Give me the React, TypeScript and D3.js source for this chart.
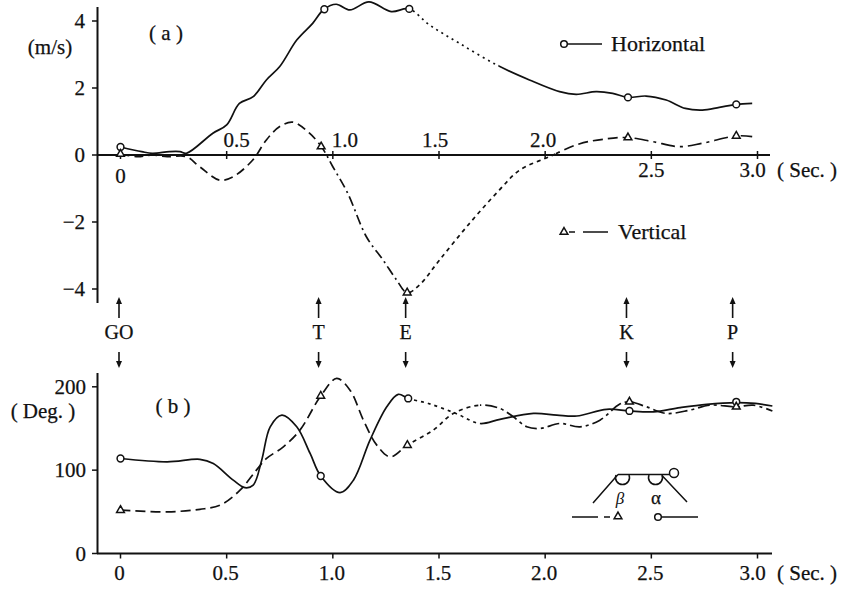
import React, { useRef, useEffect } from "react";
import * as d3 from "d3";

// (a) velocity of the centre of gravity, m/s
const horizTime = [0, 0.1, 0.15, 0.23, 0.28, 0.31, 0.435, 0.5, 0.56, 0.625, 0.687, 0.75, 0.83, 0.905, 0.958, 1.016, 1.08, 1.17, 1.275, 1.358, 1.456, 1.597, 1.777, 1.926, 2.068, 2.146, 2.24, 2.318, 2.39, 2.475, 2.57, 2.66, 2.74, 2.82, 2.9, 2.975];
const horizVel = [0.24, 0.1, 0.05, 0.1, 0.1, 0.05, 0.65, 0.9, 1.54, 1.74, 2.24, 2.64, 3.43, 3.93, 4.35, 4.5, 4.33, 4.57, 4.28, 4.36, 3.88, 3.33, 2.67, 2.24, 1.89, 1.81, 1.89, 1.84, 1.72, 1.76, 1.64, 1.39, 1.34, 1.42, 1.51, 1.54];
const vertTime = [0, 0.08, 0.15, 0.22, 0.31, 0.373, 0.467, 0.53, 0.623, 0.687, 0.75, 0.812, 0.89, 0.946, 1.0, 1.07, 1.158, 1.236, 1.3, 1.35, 1.408, 1.503, 1.644, 1.785, 1.88, 2.02, 2.16, 2.287, 2.39, 2.506, 2.63, 2.74, 2.9, 2.975];
const vertVel = [0.03, -0.05, 0.0, -0.05, -0.05, -0.35, -0.75, -0.65, -0.15, 0.45, 0.85, 0.98, 0.65, 0.25, -0.35, -1.14, -2.44, -3.13, -3.73, -4.11, -3.88, -3.13, -2.04, -1.04, -0.45, -0.05, 0.33, 0.48, 0.52, 0.4, 0.25, 0.35, 0.57, 0.55];
const horizMarkTime = [0, 0.96, 1.36, 2.39, 2.9];
const horizMarkVel = [0.24, 4.35, 4.36, 1.72, 1.51];
const vertMarkTime = [0, 0.945, 1.35, 2.39, 2.9];
const vertMarkVel = [0.03, 0.25, -4.11, 0.52, 0.57];

// (b) joint angles, deg
const alphaTime = [0, 0.22, 0.374, 0.437, 0.531, 0.586, 0.625, 0.665, 0.705, 0.76, 0.83, 0.893, 0.943, 1.034, 1.097, 1.175, 1.254, 1.308, 1.355, 1.45, 1.58, 1.693, 1.787, 1.945, 2.055, 2.149, 2.29, 2.397, 2.51, 2.635, 2.761, 2.9, 2.99, 3.07];
const alphaDeg = [114, 110, 113, 108, 88, 79, 82, 112, 152, 166, 152, 120, 93, 73, 88, 136, 176, 191, 186, 180, 168, 156, 161, 168, 166, 165, 173, 171, 170, 175, 179, 181, 180, 177];
const betaTime = [0, 0.22, 0.374, 0.469, 0.563, 0.64, 0.688, 0.767, 0.845, 0.943, 1.018, 1.081, 1.144, 1.207, 1.27, 1.351, 1.473, 1.567, 1.693, 1.787, 1.85, 1.913, 1.976, 2.07, 2.164, 2.258, 2.35, 2.397, 2.477, 2.571, 2.68, 2.775, 2.9, 2.98, 3.07];
const betaDeg = [52, 50, 53, 58, 76, 100, 114, 128, 148, 189, 210, 196, 160, 130, 116, 130, 148, 168, 178, 174, 164, 152, 150, 156, 152, 160, 179, 182, 176, 168, 172, 178, 176, 178, 171];
const alphaMarkTime = [0, 0.943, 1.355, 2.397, 2.9];
const alphaMarkDeg = [114, 93, 186, 171, 182];
const betaMarkTime = [0, 0.943, 1.351, 2.397, 2.9];
const betaMarkDeg = [52, 189, 130, 182, 176];

// phases
const eventNames = ["GO", "T", "E", "K", "P"];
const eventTime = [0, 0.94, 1.35, 2.39, 2.89];

const velTicks = [-4, -2, 0, 2, 4];
const degTicks = [0, 100, 200];
const secTicks = [0, 0.5, 1, 1.5, 2, 2.5, 3];
const secTickLabels = ["0", "0.5", "1.0", "1.5", "2.0", "2.5", "3.0"];

function App() {
    const svgRef = useRef<SVGSVGElement>(null);

    useEffect(() => {
        const svg = d3.select(svgRef.current);
        svg.selectAll("*").remove();
        const font = "'Liberation Serif', 'Times New Roman', serif";
        const ink = "#111";
        const defs = svg.append("defs");
        let clipId = 0;

        const xs = d3.scaleLinear().domain([0, 3]).range([120.5, 757.5]);
        const yTop = d3.scaleLinear().domain([-4, 4]).range([289, 21]);
        const yBot = d3.scaleLinear().domain([0, 200]).range([553.5, 386.8]);

        const text = (x: number, y: number, s: string, size = 21, anchor = "middle") =>
            svg.append("text").attr("x", x).attr("y", y).attr("text-anchor", anchor)
                .attr("font-family", font).attr("font-size", size).attr("fill", ink)
                .attr("stroke", ink).attr("stroke-width", 0.25).text(s);

        const circle = (x: number, y: number, r = 3.4) =>
            svg.append("circle").attr("cx", x).attr("cy", y).attr("r", r)
                .attr("fill", "#fff").attr("stroke", ink).attr("stroke-width", 1.5);
        const triangle = (x: number, y: number) =>
            svg.append("path").attr("d", d3.symbol().type(d3.symbolTriangle).size(26)())
                .attr("transform", `translate(${x},${y})`)
                .attr("fill", "#fff").attr("stroke", ink).attr("stroke-width", 1.5);

        // one continuous curve, stroked in pieces with the style of each phase
        const drawSeries = (time: number[], vals: number[], y: d3.ScaleLinear<number, number>,
            segs: [number, number, string | null][]) => {
            const gen = d3.line<number>()
                .x((_, i) => xs(time[i]))
                .y((v) => y(v))
                .curve(d3.curveCatmullRom.alpha(0.5));
            segs.forEach(([t0, t1, dash]) => {
                const id = `seg${clipId++}`;
                defs.append("clipPath").attr("id", id).append("rect")
                    .attr("x", xs(t0)).attr("width", xs(t1) - xs(t0))
                    .attr("y", 0).attr("height", 590);
                svg.append("path").datum(vals).attr("d", gen)
                    .attr("clip-path", `url(#${id})`)
                    .attr("fill", "none").attr("stroke", ink).attr("stroke-width", 1.7)
                    .attr("stroke-dasharray", dash);
            });
        };

        // ---------- (a) axes ----------
        const axisW = 2;
        svg.append("line").attr("x1", 97.5).attr("x2", 97.5).attr("y1", 7).attr("y2", 303)
            .attr("stroke", ink).attr("stroke-width", axisW);
        svg.append("line").attr("x1", 97).attr("x2", 770).attr("y1", yTop(0)).attr("y2", yTop(0))
            .attr("stroke", ink).attr("stroke-width", axisW);
        velTicks.forEach((v) => {
            svg.append("line").attr("x1", 92).attr("x2", 97.5).attr("y1", yTop(v)).attr("y2", yTop(v))
                .attr("stroke", ink).attr("stroke-width", 1.5);
            text(85, yTop(v) + 7, v < 0 ? `\u2212${-v}` : `${v}`, 21, "end");
        });
        const aboveDx: Record<string, number> = { "0.5": 10, "1.0": 12, "1.5": -4, "2.0": -2 };
        secTicks.forEach((t, i) => {
            svg.append("line").attr("x1", xs(t)).attr("x2", xs(t)).attr("y1", yTop(0) - 4).attr("y2", yTop(0) + 4)
                .attr("stroke", ink).attr("stroke-width", 1.5);
            const lab = secTickLabels[i];
            if (lab in aboveDx) text(xs(t) + aboveDx[lab], yTop(0) - 8, lab);
            else if (t === 0) text(xs(t), 183, lab);
            else text(xs(t) - (t === 3 ? 5 : 0), 177, lab);
        });
        text(777, 177, "( Sec. )", 21, "start");
        text(50, 54, "(m/s)", 21, "middle");
        text(166, 40, "( a )", 21, "middle");

        drawSeries(horizTime, horizVel, yTop, [[-0.1, 1.36, null], [1.36, 1.78, "2,4"], [1.78, 3.1, null]]);
        drawSeries(vertTime, vertVel, yTop, [[-0.1, 0.946, "9,5"], [0.946, 1.35, "10,4,2,4"], [1.35, 2.05, "4,4"], [2.05, 2.39, "10,5"], [2.39, 3.1, "14,5,3,5"]]);
        horizMarkTime.forEach((t, i) => circle(xs(t), yTop(horizMarkVel[i])));
        vertMarkTime.forEach((t, i) => triangle(xs(t), yTop(vertMarkVel[i])));

        // legend (a)
        circle(564, 44, 3.3);
        svg.append("line").attr("x1", 567.5).attr("x2", 602).attr("y1", 44).attr("y2", 44).attr("stroke", ink).attr("stroke-width", 1.5);
        text(611, 51, "Horizontal", 22, "start");
        triangle(564, 232);
        svg.append("line").attr("x1", 569).attr("x2", 575).attr("y1", 232).attr("y2", 232).attr("stroke", ink).attr("stroke-width", 1.5);
        svg.append("line").attr("x1", 583).attr("x2", 608).attr("y1", 232).attr("y2", 232).attr("stroke", ink).attr("stroke-width", 1.5);
        text(618, 239, "Vertical", 22, "start");

        // ---------- phase markers ----------
        eventTime.forEach((t, i) => {
            const x = xs(t) - 1.5;
            svg.append("line").attr("x1", x).attr("x2", x).attr("y1", 318).attr("y2", 302).attr("stroke", ink).attr("stroke-width", 1.6);
            svg.append("path").attr("d", `M${x - 3},${304} L${x + 3},${304} L${x},${297} Z`).attr("fill", ink);
            text(x, 339, eventNames[i], 20);
            svg.append("line").attr("x1", x).attr("x2", x).attr("y1", 352).attr("y2", 363).attr("stroke", ink).attr("stroke-width", 1.6);
            svg.append("path").attr("d", `M${x - 3},${361} L${x + 3},${361} L${x},${368} Z`).attr("fill", ink);
        });

        // ---------- (b) axes ----------
        svg.append("line").attr("x1", 97.5).attr("x2", 97.5).attr("y1", 373).attr("y2", yBot(0))
            .attr("stroke", ink).attr("stroke-width", axisW);
        svg.append("line").attr("x1", 97).attr("x2", 772).attr("y1", yBot(0)).attr("y2", yBot(0))
            .attr("stroke", ink).attr("stroke-width", axisW);
        degTicks.forEach((v) => {
            svg.append("line").attr("x1", 92).attr("x2", 97.5).attr("y1", yBot(v)).attr("y2", yBot(v))
                .attr("stroke", ink).attr("stroke-width", 1.5);
            text(86, yBot(v) + 7, `${v}`, 21, "end");
        });
        secTicks.forEach((t, i) => {
            svg.append("line").attr("x1", xs(t)).attr("x2", xs(t)).attr("y1", yBot(0)).attr("y2", yBot(0) + 5)
                .attr("stroke", ink).attr("stroke-width", 1.5);
            text(xs(t) - (t === 3 ? 5 : 1), 580, secTickLabels[i]);
        });
        text(777, 580, "( Sec. )", 21, "start");
        text(43, 418, "( Deg. )", 21, "middle");
        text(173, 413, "( b )", 21, "middle");

        drawSeries(alphaTime, alphaDeg, yBot, [[-0.1, 1.355, null], [1.355, 1.693, "3,4"], [1.693, 3.1, null]]);
        drawSeries(betaTime, betaDeg, yBot, [[-0.1, 1.351, "10,5"], [1.351, 1.693, "4,4"], [1.693, 3.1, "12,4,3,4"]]);
        alphaMarkTime.forEach((t, i) => circle(xs(t), yBot(alphaMarkDeg[i])));
        betaMarkTime.forEach((t, i) => triangle(xs(t), yBot(betaMarkDeg[i])));

        // inset: angle definitions
        const g = svg.append("g").attr("fill", "none").attr("stroke", ink).attr("stroke-width", 1.5);
        g.append("path").attr("d", "M618,474.5 H670 M618,474.5 L593,503 M662,475.5 L687,502");
        g.append("path").attr("d", "M616,475 A7,7 0 1,0 629,475 M649,475 A7,7 0 1,0 662,475");
        circle(674, 473, 4.5);
        svg.append("text").attr("x", 620).attr("y", 504).attr("text-anchor", "middle")
            .attr("font-family", font).attr("font-style", "italic").attr("font-size", 17).attr("fill", ink).text("β");
        text(656, 504, "α", 19);
        g.append("path").attr("d", "M572,517 H598 M604,517 H610 M661.5,517 H698");
        triangle(618, 516.5);
        circle(658, 517, 3.3);
    }, []);

    return (
        <svg ref={svgRef} width={852} height={590}
            style={{ position: "absolute", left: 0, top: 0, background: "#fff" }}></svg>
    );
}

export default App;
